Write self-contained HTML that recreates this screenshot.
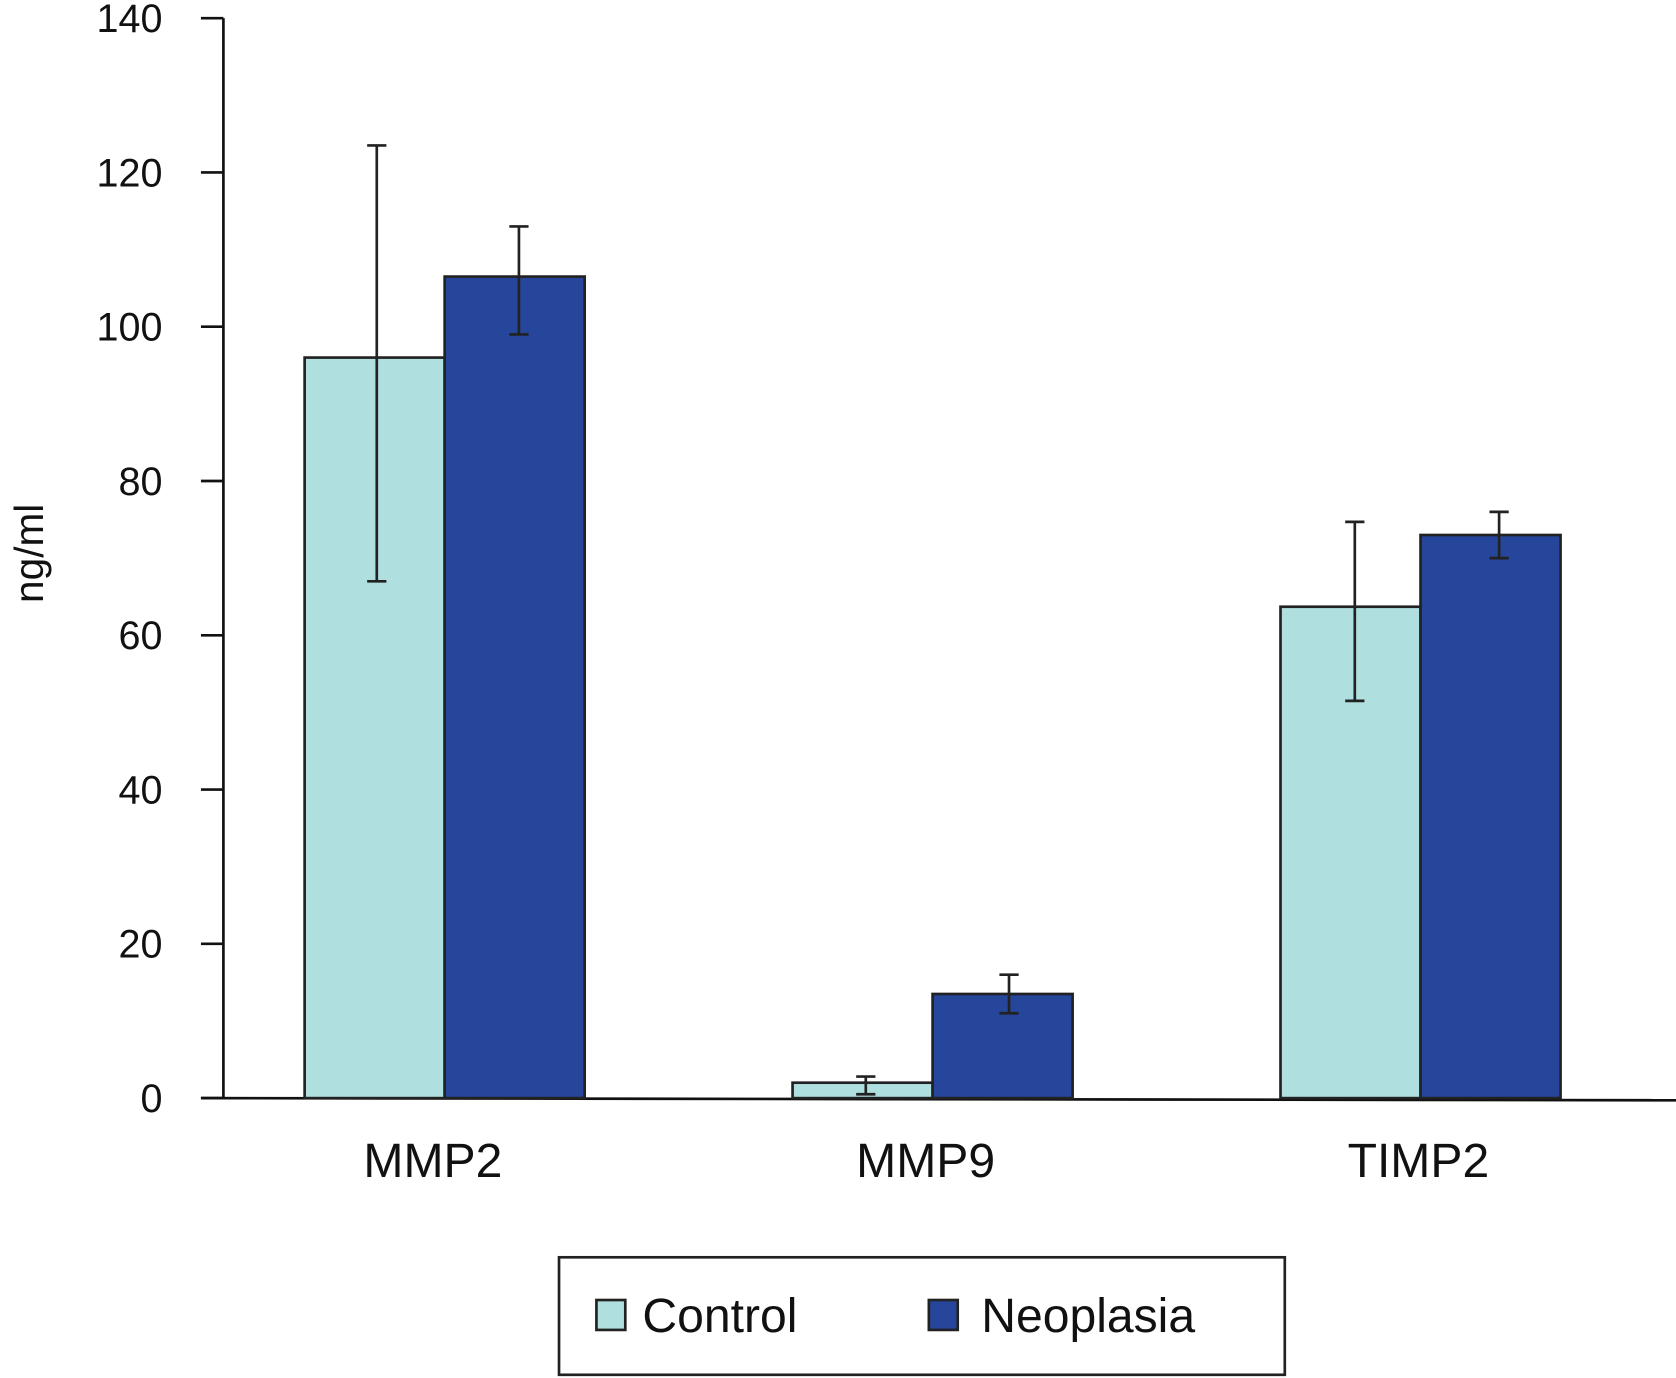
<!DOCTYPE html>
<html><head><meta charset="utf-8"><style>html,body{margin:0;padding:0;background:#fff}svg{display:block}text{font-family:"Liberation Sans",sans-serif;fill:#111}</style></head>
<body>
<svg id="chart" width="1676" height="1378" viewBox="0 0 1568 1290" preserveAspectRatio="none" xmlns="http://www.w3.org/2000/svg">
<g id="axes"></g><g id="bars"></g>
<g>
<rect x="523" y="1177" width="679" height="110" fill="#fff" stroke="#222" stroke-width="2.5"/>
<rect x="558" y="1217" width="27" height="28" fill="#b0dfe0" stroke="#222" stroke-width="2.5"/>
<text x="601" y="1247" font-size="45">Control</text>
<rect x="869" y="1217" width="27" height="28" fill="#26469b" stroke="#222" stroke-width="2.5"/>
<text x="918" y="1247" font-size="45">Neoplasia</text>
</g>
<text transform="translate(40,518) rotate(-90)" text-anchor="middle" font-size="38">ng/ml</text>
</svg>
<script>
const categories = ["MMP2","MMP9","TIMP2"];
const controlValues = [96, 2, 63.7];
const neoplasiaValues = [106.5, 13.5, 73];
const controlLow = [67, 0.5, 51.5];
const controlHigh = [123.5, 2.8, 74.7];
const neoLow = [99, 11, 70];
const neoHigh = [113, 16, 76];
const yTicks = [0,20,40,60,80,100,120,140];

const NS="http://www.w3.org/2000/svg";
const y = v => 1028 - v*(1011/140);
const xc = i => 416 + i*456.5;
const BW = 131;
function mk(tag, attrs, parent){const e=document.createElementNS(NS,tag);for(const k in attrs)e.setAttribute(k,attrs[k]);parent.appendChild(e);return e;}
const axes=document.getElementById('axes'), bars=document.getElementById('bars');
let l=mk('line',{x1:209,y1:17,x2:209,y2:1028,stroke:'#111','stroke-width':2.5},axes);


l=mk('line',{x1:188,y1:1028,x2:1568,y2:1030,stroke:'#111','stroke-width':2.5},axes);


yTicks.forEach(t=>{
  const tk=mk('line',{x1:188,x2:209,y1:y(t),y2:y(t),stroke:'#111','stroke-width':2.5},axes);
  
  
  const tx=mk('text',{x:152,y:y(t)+13,'text-anchor':'end','font-size':37},axes);
  tx.textContent=t;
  
  
});
categories.forEach((c,i)=>{
  const tx=mk('text',{x:xc(i)-11+i*4.5,y:1102,'text-anchor':'middle','font-size':45},axes);
  tx.textContent=c;
  
  
  [[controlValues,controlLow,controlHigh,'#b0dfe0',-BW,'control'],[neoplasiaValues,neoLow,neoHigh,'#26469b',0,'neoplasia']].forEach(([vals,lo,hi,col,off,nm])=>{
    const x0=xc(i)+off;
    const r=mk('rect',{x:x0,y:y(vals[i]),width:BW,height:1028-y(vals[i]),fill:col,stroke:'#222','stroke-width':2.5},bars);
    
    
    const cx=x0+BW/2+(off<0?2+i:4+i*2);
    const g=mk('g',{stroke:'#222','stroke-width':2.5},bars);
    
    
    mk('line',{x1:cx,x2:cx,y1:y(hi[i]),y2:y(lo[i])},g);
    mk('line',{x1:cx-9,x2:cx+9,y1:y(hi[i]),y2:y(hi[i])},g);
    mk('line',{x1:cx-9,x2:cx+9,y1:y(lo[i]),y2:y(lo[i])},g);
  });
});
</script>
</body></html>
